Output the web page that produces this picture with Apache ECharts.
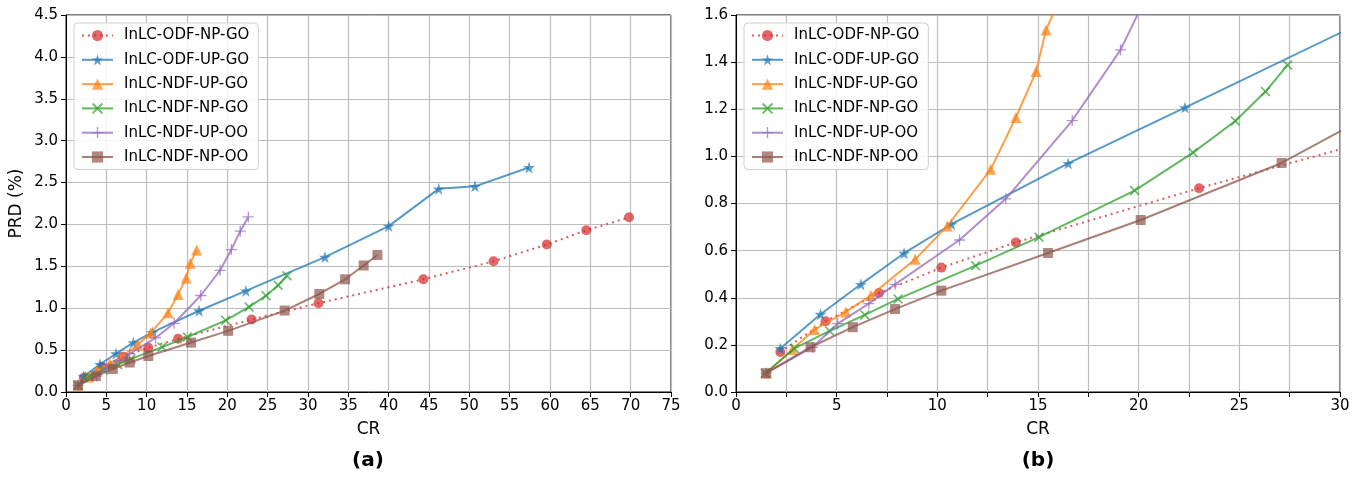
<!DOCTYPE html>
<html>
<head>
<meta charset="utf-8">
<script src="https://cdn.jsdelivr.net/npm/echarts@6/dist/echarts.min.js"></script>
<style>
html,body{margin:0;padding:0;background:#fff;}
#c{width:1362px;height:478px;}
</style>
</head>
<body>
<div id="c"></div>
<script>
// ---- data (CR, PRD %) ----
const seriesNames = ['InLC-ODF-NP-GO','InLC-ODF-UP-GO','InLC-NDF-UP-GO','InLC-NDF-NP-GO','InLC-NDF-UP-OO','InLC-NDF-NP-OO'];
const odfNpGo = [[2.2,0.17],[4.45,0.30],[7.1,0.42],[10.2,0.528],[13.9,0.635],[23.0,0.865],[31.3,1.06],[44.3,1.345],[53.0,1.56],[59.6,1.76],[64.5,1.93],[69.8,2.085]];
const odfUpGo = [[2.2,0.185],[4.2,0.33],[6.2,0.457],[8.35,0.589],[10.7,0.712],[16.5,0.97],[22.3,1.207],[32.1,1.61],[40.0,1.98],[46.2,2.425],[50.7,2.455],[57.4,2.68]];
const ndfUpGo = [[1.5,0.08],[2.8,0.18],[3.9,0.265],[5.45,0.34],[6.7,0.41],[8.9,0.563],[10.5,0.705],[12.65,0.945],[13.9,1.165],[14.9,1.36],[15.4,1.536],[16.2,1.695]];
const ndfNpGo = [[1.45,0.08],[2.9,0.185],[4.65,0.259],[6.4,0.327],[8.05,0.395],[11.9,0.536],[15.05,0.657],[19.8,0.855],[22.7,1.016],[24.8,1.15],[26.3,1.275],[27.4,1.388]];
const ndfUpOo = [[1.5,0.08],[3.8,0.19],[5.05,0.29],[6.6,0.375],[7.9,0.457],[11.1,0.645],[13.4,0.82],[16.7,1.152],[19.1,1.452],[20.5,1.70],[21.6,1.92],[22.6,2.09]];
const ndfNpOo = [[1.5,0.08],[3.7,0.19],[5.8,0.275],[7.9,0.352],[10.2,0.43],[15.5,0.59],[20.1,0.73],[27.1,0.972],[31.4,1.17],[34.6,1.345],[36.9,1.51],[38.6,1.635]];
const allData = [odfNpGo, odfUpGo, ndfUpGo, ndfNpGo, ndfUpOo, ndfNpOo];

// axis settings
const leftX = {min:0, max:75, interval:5};
const leftY = {min:0, max:4.5, interval:0.5};
const rightX = {min:0, max:30, interval:2.5};
const rightY = {min:0, max:1.6, interval:0.2};
const panelLabels = ['(a)','(b)'];

const colors = ['#d62728','#1f77b4','#ff7f0e','#2ca02c','#9467bd','#8c564b'];
const STAR = 'path://M50,0 L61.8,35.5 L99,35.5 L69,57.5 L80.5,93 L50,71 L19.5,93 L31,57.5 L1,35.5 L38.2,35.5 Z';
const XMARK = 'path://M0,1.2 L1.2,0 L5,3.8 L8.8,0 L10,1.2 L6.2,5 L10,8.8 L8.8,10 L5,6.2 L1.2,10 L0,8.8 L3.8,5 Z';
const PLUS = 'path://M4.4,0 H5.6 V4.4 H10 V5.6 H5.6 V10 H4.4 V5.6 H0 V4.4 H4.4 Z';
const symbols = ['circle', STAR, 'triangle', XMARK, PLUS, 'rect'];
const symbolSizes = [10, 12, 11, 10, 11, 10];

const FONT = 'DejaVu Sans';

function xAxis(cfg, gridIndex, fmt) {
  return {
    type:'value', gridIndex, min:cfg.min, max:cfg.max, interval:cfg.interval,
    name:'CR', nameLocation:'middle', nameGap:29,
    nameTextStyle:{fontFamily:FONT, fontSize:17, color:'#000'},
    axisLine:{show:true, lineStyle:{color:'#000', width:1}},
    axisTick:{show:true, inside:false, length:5, lineStyle:{color:'#000'}},
    axisLabel:{fontFamily:FONT, fontSize:15, color:'#000', margin:7, formatter: fmt},
    splitLine:{show:true, lineStyle:{color:'#bdbdbd', width:1.2}}
  };
}
function yAxis(cfg, gridIndex, name) {
  return {
    type:'value', gridIndex, min:cfg.min, max:cfg.max, interval:cfg.interval,
    name:name, nameLocation:'middle', nameGap:41, nameRotate:90,
    nameTextStyle:{fontFamily:FONT, fontSize:17, color:'#000'},
    axisLine:{show:true, lineStyle:{color:'#000', width:1}},
    axisTick:{show:true, inside:false, length:5, lineStyle:{color:'#000'}},
    axisLabel:{fontFamily:FONT, fontSize:15, color:'#000', margin:8, formatter: v => v.toFixed(1)},
    splitLine:{show:true, lineStyle:{color:'#bdbdbd', width:1.2}}
  };
}

const series = [];
[0,1].forEach(g => {
  allData.forEach((d, i) => {
    series.push({
      name: seriesNames[i], type:'line', xAxisIndex:g, yAxisIndex:g,
      data: d, clip:true, smooth:false,
      symbol: symbols[i], symbolSize: symbolSizes[i], showAllSymbol:true,
      color: colors[i],
      lineStyle:{color:colors[i], width:2, opacity:0.75, type: i===0 ? [2,4] : 'solid'},
      itemStyle:{color:colors[i], opacity:0.7},
      emphasis:{disabled:true},
      animation:false, z: 2 + i
    });
  });
});

function legend(left) {
  return {
    data: seriesNames, orient:'vertical', left:left, top:23,
    itemWidth:31, itemHeight:14, itemGap:9.3,
    padding:[5,9,5,7],
    backgroundColor:'rgba(255,255,255,0.85)', borderColor:'#d0d0d0', borderWidth:1, borderRadius:4,
    textStyle:{fontFamily:FONT, fontSize:15, color:'#000', padding:[0,0,0,6]},
    selectedMode:false
  };
}

const chart = echarts.init(document.getElementById('c'), null, {renderer:'canvas'});
chart.setOption({
  animation:false,
  backgroundColor:'#fff',
  grid:[
    {left:66, right:691, top:15, bottom:86, show:true, borderColor:'#000', borderWidth:1, backgroundColor:'transparent'},
    {left:736, right:22, top:15, bottom:86, show:true, borderColor:'#000', borderWidth:1, backgroundColor:'transparent'}
  ],
  xAxis:[xAxis(leftX, 0, v => String(v)), xAxis(rightX, 1, v => (v % 5 === 0 ? String(v) : ''))],
  yAxis:[yAxis(leftY, 0, 'PRD (%)'), yAxis(rightY, 1, '')],
  legend:[legend(74), legend(744)],
  series: series,
  graphic:[
    {type:'text', x:368, y:451, style:{text:panelLabels[0], font:'bold 20px "DejaVu Sans"', fill:'#000', textAlign:'center'}},
    {type:'text', x:1038, y:451, style:{text:panelLabels[1], font:'bold 20px "DejaVu Sans"', fill:'#000', textAlign:'center'}}
  ]
});
</script>
</body>
</html>
